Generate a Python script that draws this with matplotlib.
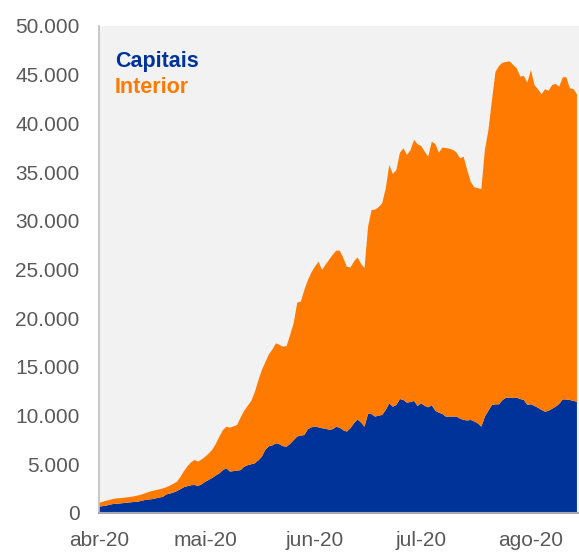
import matplotlib
matplotlib.use("Agg")
import matplotlib.pyplot as plt
import pandas as pd

plt.rcParams['font.family'] = ['Liberation Sans', 'DejaVu Sans']

start_date = "2020-04-01"

capitais = [
    650, 700, 750, 850, 920, 950, 980, 1020, 1060, 1100,
    1130, 1160, 1250, 1330, 1380, 1420, 1500, 1580, 1650, 1900,
    1990, 2100, 2250, 2450, 2650, 2750, 2850, 2870, 2780, 2950,
    3200, 3400, 3600, 3850, 4070, 4400, 4590, 4250, 4300, 4350,
    4400, 4750, 4900, 5000, 5100, 5400, 5780, 6500, 6850, 6950,
    7160, 7050, 6850, 6810, 7100, 7490, 7850, 7950, 8000, 8600,
    8800, 8850, 8800, 8700, 8650, 8550, 8600, 8850, 8750, 8500,
    8350, 8700, 9200, 9600, 9300, 8860, 10200, 10150, 9890, 10000,
    10060, 10580, 11260, 10910, 11090, 11700, 11600, 11320, 11400, 11500,
    10990, 11260, 11000, 10850, 11060, 10500, 10300, 10160, 9890, 9890,
    9900, 9890, 9700, 9550, 9500, 9550, 9400, 9200, 8860, 9890,
    10500, 11090, 11150, 11160, 11600, 11840, 11850, 11800, 11840, 11700,
    11600, 11090, 11160, 11000, 10800, 10580, 10400, 10500, 10700, 10910,
    11200, 11670, 11650, 11600, 11500, 11430,
]

interior = [
    380, 450, 500, 500, 520, 550, 540, 550, 550, 560,
    590, 640, 650, 690, 770, 830, 850, 840, 870, 740,
    810, 900, 960, 1250, 1650, 2050, 2350, 2570, 2490, 2550,
    2580, 2700, 2900, 3250, 3760, 4100, 4270, 4500, 4600, 4680,
    5400, 5750, 6100, 6500, 7300, 8200, 8900, 9000, 9450, 9850,
    10260, 10200, 10220, 10340, 11200, 12010, 13750, 13750, 14900, 15300,
    15900, 16450, 17000, 16250, 16850, 17450, 17900, 18080, 18180, 17700,
    16940, 16490, 16600, 16650, 16300, 16260, 19190, 20960, 21260, 21400,
    21740, 22760, 24470, 23890, 24130, 25290, 25840, 25440, 25870, 26800,
    26860, 26420, 26100, 25730, 27060, 27380, 26690, 27350, 27580, 27510,
    27370, 27110, 26710, 27030, 25720, 24450, 24040, 24150, 24400, 27380,
    28820, 31310, 34150, 34740, 34630, 34460, 34520, 34200, 33810, 33100,
    33270, 33090, 34320, 32940, 32700, 32410, 33100, 32860, 33240, 33140,
    32570, 33060, 33080, 32000, 32030, 31560,
]

series_names = ["Capitais", "Interior"]
series_colors = ["#003399", "#FF7A00"]

month_ticks = ["2020-04-01", "2020-05-01", "2020-06-01", "2020-07-01", "2020-08-01"]
month_labels = ["abr-20", "mai-20", "jun-20", "jul-20", "ago-20"]

y_ticks = [0, 5000, 10000, 15000, 20000, 25000, 30000, 35000, 40000, 45000, 50000]

dates = pd.date_range(start_date, periods=len(capitais), freq="D")

fig = plt.figure(figsize=(5.79, 5.52), dpi=100)
ax = fig.add_axes([0.171, 0.0707, 0.829, 0.8823])
ax.set_facecolor("#F2F2F2")

ax.stackplot(dates, capitais, interior, colors=series_colors, linewidth=0)

ax.set_xlim(dates[0], dates[-1] + pd.Timedelta(hours=14))
ax.set_ylim(0, 50000)

ax.set_yticks(y_ticks)
ax.set_yticklabels([f"{v:,}".replace(",", ".") for v in y_ticks])
ax.set_xticks(pd.to_datetime(month_ticks))
ax.set_xticklabels(month_labels)

ax.tick_params(axis="y", length=0, pad=14, labelsize=15, labelcolor="#595959")
ax.tick_params(axis="x", length=0, pad=13, labelsize=15, labelcolor="#595959")

for s in ["top", "right"]:
    ax.spines[s].set_visible(False)
ax.spines["left"].set_color("#BFBFBF")
ax.spines["left"].set_linewidth(1.2)
ax.spines["bottom"].set_color("#A8A8B4")
ax.spines["bottom"].set_linewidth(1.5)

ax.text(0.033, 0.926, series_names[0], transform=ax.transAxes, color=series_colors[0],
        fontsize=15.5, fontweight="bold", va="center", ha="left")
ax.text(0.033, 0.873, series_names[1], transform=ax.transAxes, color=series_colors[1],
        fontsize=15.5, fontweight="bold", va="center", ha="left")

fig.savefig("out.png", dpi=100)
